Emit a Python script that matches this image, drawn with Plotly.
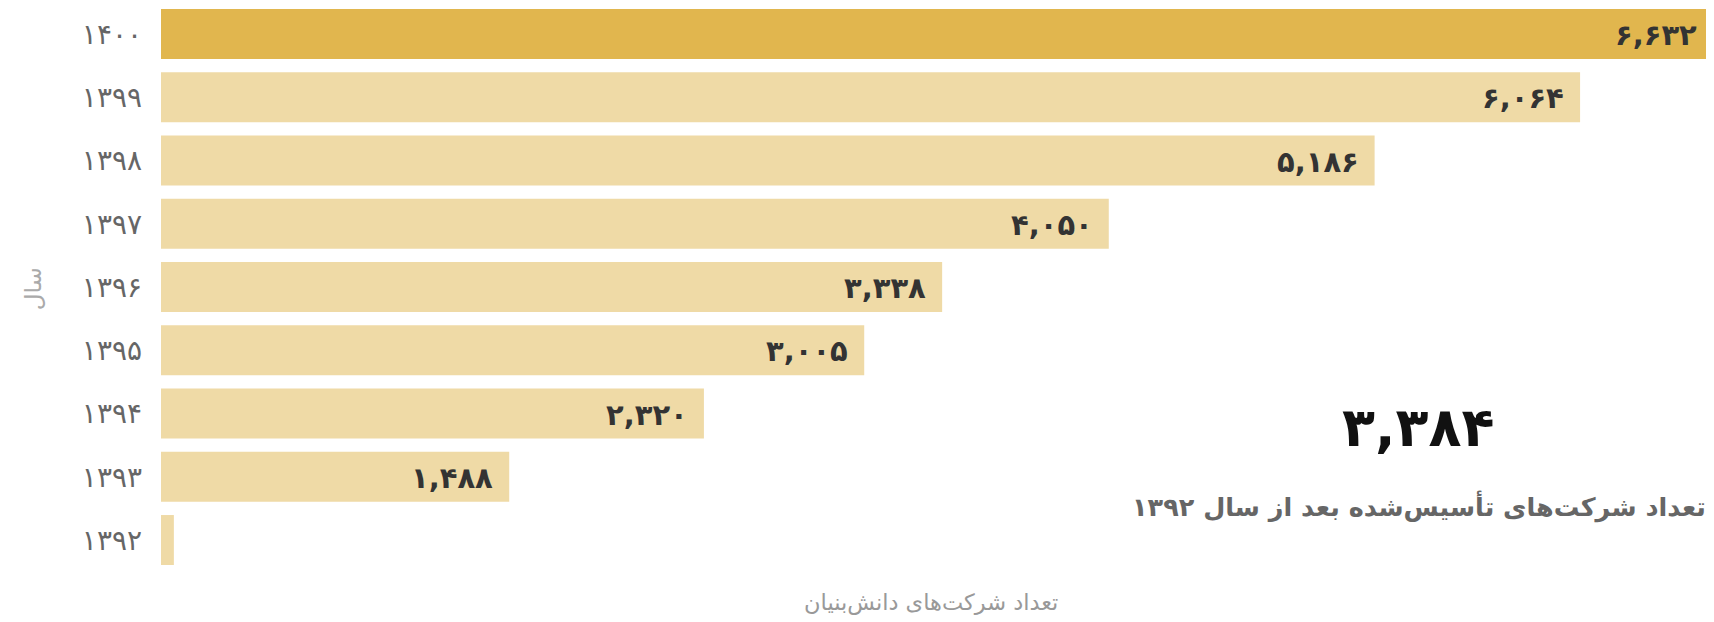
import plotly.graph_objects as go

years = ["۱۴۰۰", "۱۳۹۹", "۱۳۹۸", "۱۳۹۷", "۱۳۹۶", "۱۳۹۵", "۱۳۹۴", "۱۳۹۳", "۱۳۹۲"]
values = [6632, 6064, 5186, 4050, 3338, 3005, 2320, 1488, 55]
highlight_year = "۱۴۰۰"
total_after = 3384
total_label = "تعداد شرکت‌های تأسیس‌شده بعد از سال ۱۳۹۲"
x_title = "تعداد شرکت‌های دانش‌بنیان"
y_title = "سال"

FA_DIGITS = str.maketrans("0123456789", "۰۱۲۳۴۵۶۷۸۹")


def fa_num(v):
    return f"{v:,}".translate(FA_DIGITS)


FONT = "DejaVu Sans"
colors = ["#e1b64e" if y == highlight_year else "#efdaa6" for y in years]

fig = go.Figure(
    go.Bar(
        x=values,
        y=years,
        orientation="h",
        marker=dict(color=colors, line=dict(width=0)),
        hoverinfo="skip",
    )
)

# value labels (skip the tiny last bar)
for y, v in zip(years, values):
    if v < 500:
        continue
    fig.add_annotation(
        x=v, y=y, xref="x", yref="y",
        text=f"<b>{fa_num(v)}</b>",
        xanchor="right", yanchor="middle", xshift=-14, yshift=-1,
        showarrow=False,
        font=dict(family=FONT, size=29, color="#333333"),
    )

# big total annotation
fig.add_annotation(
    x=0.81, y=0.266, xref="paper", yref="paper",
    text=f"<b>{fa_num(total_after)}</b>",
    xanchor="center", yanchor="middle", showarrow=False,
    font=dict(family=FONT, size=54, color="#111111"),
)
fig.add_annotation(
    x=0.997, y=0.129, xref="paper", yref="paper",
    text=f"<b>{total_label}</b>",
    xanchor="right", yanchor="middle", showarrow=False,
    font=dict(family=FONT, size=25.5, color="#666666"),
)

# axis titles
fig.add_annotation(
    x=-0.0825, y=0.51, xref="paper", yref="paper",
    text=y_title, textangle=-90,
    xanchor="center", yanchor="middle", showarrow=False,
    font=dict(family=FONT, size=23, color="#aaaaaa"),
)
fig.add_annotation(
    x=0.496, y=-0.0385, xref="paper", yref="paper",
    text=x_title,
    xanchor="center", yanchor="middle", showarrow=False,
    font=dict(family=FONT, size=22.5, color="#999999"),
)

fig.update_layout(
    width=1706, height=614,
    margin=dict(l=153, r=1, t=0, b=42),
    paper_bgcolor="white", plot_bgcolor="white",
    bargap=0.21,
    showlegend=False,
    xaxis=dict(range=[0, 6632], visible=False, fixedrange=True),
    yaxis=dict(
        range=[8.632, -0.411],
        showgrid=False, zeroline=False, showline=False,
        ticks="", ticklabelstandoff=18, automargin=False,
        tickfont=dict(family=FONT, size=28, color="#666666"),
    ),
)

fig.write_html("out.html")
